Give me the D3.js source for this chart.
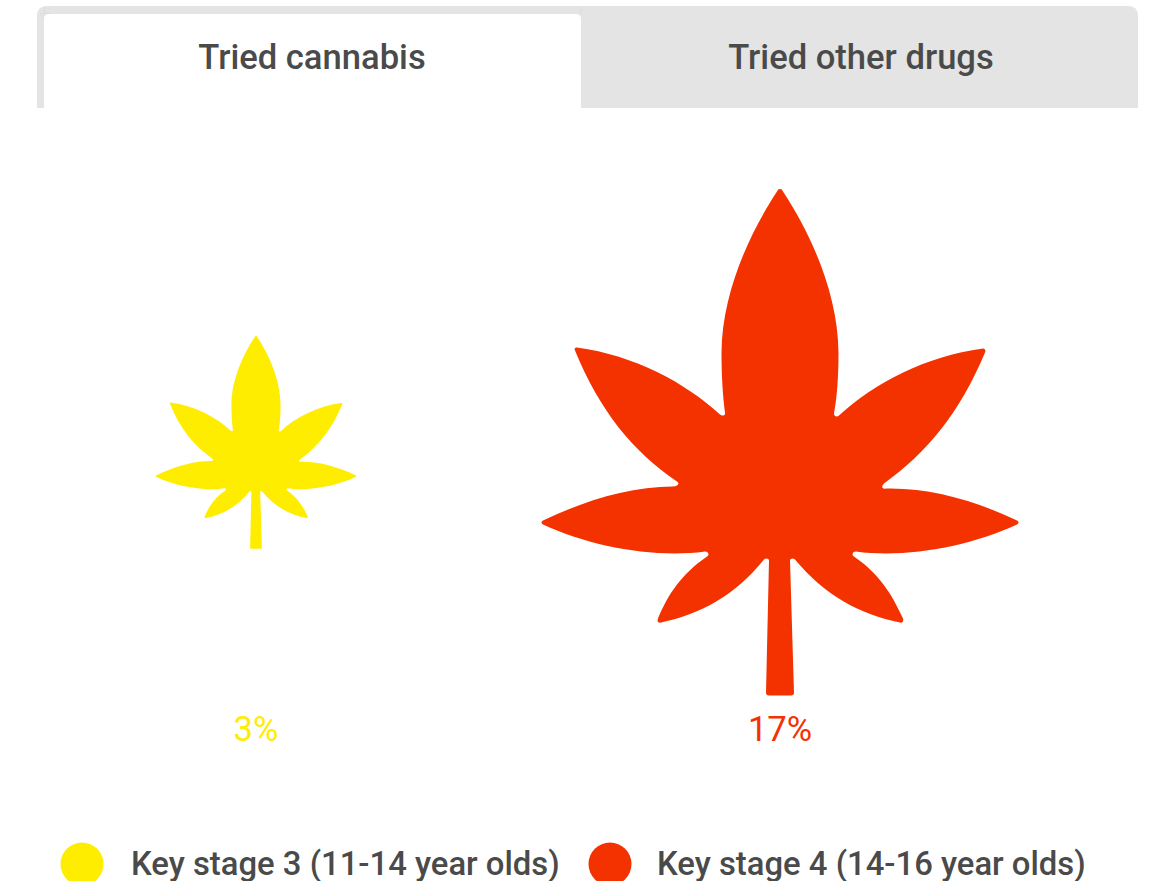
<!DOCTYPE html>
<html><head><meta charset="utf-8">
<script src="https://cdnjs.cloudflare.com/ajax/libs/d3/7.8.5/d3.min.js"></script>
<style>html,body{margin:0;padding:0;background:#fff;overflow:hidden}svg{display:block}text{font-family:Roboto,sans-serif}</style>
</head><body><svg id="c" width="1149" height="881"></svg>
<script>
const tabs = ["Tried cannabis", "Tried other drugs"];
const groups = ["Key stage 3 (11-14 year olds)", "Key stage 4 (14-16 year olds)"];
const values = [3, 17];
const colors = ["#FFED00", "#F43200"];
const suffix = "%";

// Leaf glyph outline, in glyph units, centred on (0,0); 505 units tall.
const leaf = "M0,-253 C1,-254 2,-253 3,-251 C30,-210 58,-150 58.5,-90 C58.5,-65 57,-45 54,-29 C54,-26 57,-25 59,-27 C95,-60 145,-86 203,-94 C205,-94 206,-92 205,-90 C180,-30 147,10 104,41 C101,44 102,47 106,46 C150,45 195,58 237,78 C239,79 239,81 237,82 C190,104 125,116 76,109 C73,109 71,112 74,114 C100,132 112,152 123,176 C124,179 122,181 120,180 C80,172 45,153 15,117 C13,115 10,116 10,118 L14,250 C14,252 13,253 11,253 L-11,253 C-13,253 -14,252 -14,250 L-11,118 C-11,116 -14,115 -16,117 C-45,153 -80,172 -119,180 C-122,181 -123,179 -122,176 C-112,152 -99,132 -73,114 C-70,112 -72,109 -75,109 C-125,116 -190,104 -237,82 C-239,81 -239,79 -237,78 C-195,58 -150,44 -107,44 C-102,44 -100,41 -103,39 C-147,9 -180,-31 -205,-92 C-206,-94 -205,-95 -203,-95 C-145,-87 -95,-60 -60,-28 C-58,-26 -54,-27 -55,-30 C-57,-45 -58.5,-65 -58.5,-90 C-58,-150 -30,-210 -3,-251 C-2,-253 -1,-254 0,-253 Z";

const svg = d3.select("#c");

// Tabs
const tabBar = svg.append("g");
tabBar.append("path").attr("d", "M37,108 V16 Q37,6 47,6 H1128 Q1138,6 1138,16 V108 Z").attr("fill", "#e4e4e4");
tabBar.append("path").attr("d", "M44.5,6 V14 M581,6 V14 M40,13.5 H50").attr("stroke", "#dcdcdc").attr("fill", "none");
tabBar.append("path").attr("d", "M44,108 V19 Q44,14 49,14 H576 Q581,14 581,19 V108 Z").attr("fill", "#fff");
const tabX = d3.scalePoint().domain(tabs).range([312, 861]);
tabBar.selectAll("text").data(tabs).join("text")
  .attr("x", d => tabX(d)).attr("y", 69).attr("text-anchor", "middle")
  .attr("font-size", 34.6).attr("font-weight", 500).attr("fill", "#4a4a4a").text(d => d);

// Leaves: area proportional to value
const x = d3.scalePoint().domain(groups).range([256, 780]);
const size = d3.scaleSqrt().domain([0, 17]).range([0, 1]);
const cy = 442.5;
svg.selectAll("path.leaf").data(groups).join("path").attr("class", "leaf")
  .attr("d", leaf)
  .attr("fill", (d, i) => colors[i])
  .attr("transform", (d, i) => `translate(${x(d)},${cy}) scale(${size(values[i])})`);

// Value labels
svg.selectAll("text.val").data(groups).join("text").attr("class", "val")
  .attr("x", d => x(d)).attr("y", 741).attr("text-anchor", "middle")
  .attr("font-size", 34.6).attr("font-weight", 400)
  .attr("fill", (d, i) => colors[i]).text((d, i) => values[i] + suffix);

// Legend
const lx = d3.scalePoint().domain(groups).range([82, 610]);
const ltx = d3.scalePoint().domain(groups).range([131, 657]);
svg.selectAll("circle.lg").data(groups).join("circle").attr("class", "lg")
  .attr("cx", d => lx(d)).attr("cy", 864).attr("r", 21.5).attr("fill", (d, i) => colors[i]);
svg.selectAll("text.lg").data(groups).join("text").attr("class", "lg")
  .attr("x", d => ltx(d)).attr("y", 875)
  .attr("font-size", 32.85).attr("font-weight", 500).attr("fill", "#4a4a4a").text(d => d);
</script></body></html>
